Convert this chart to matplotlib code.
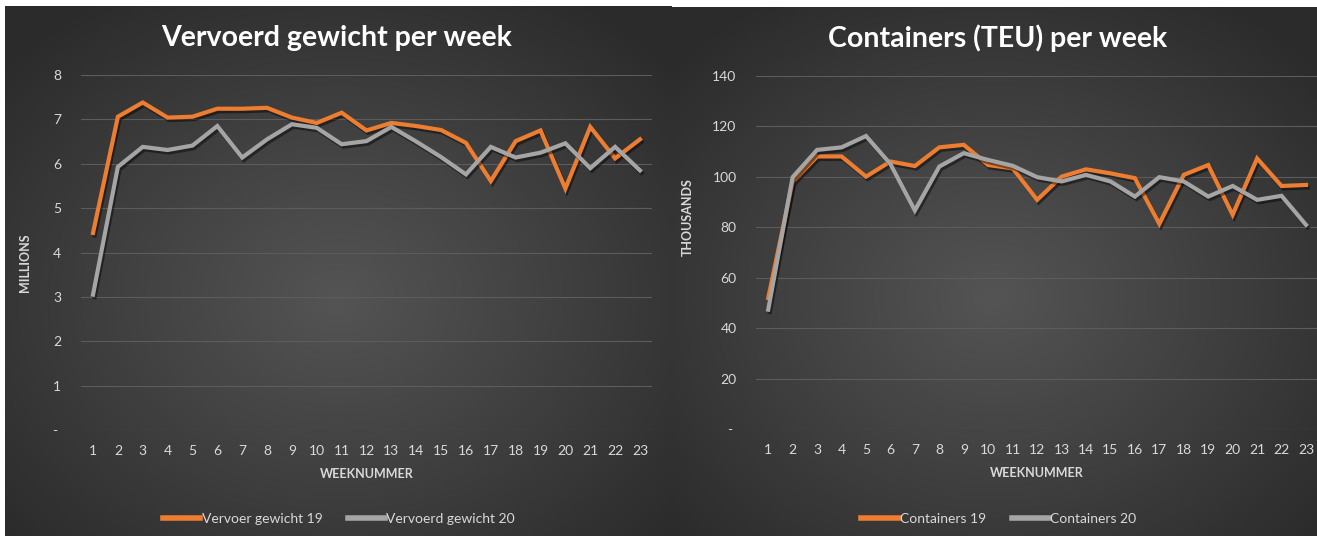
import numpy as np
import matplotlib
matplotlib.use("Agg")
import matplotlib.pyplot as plt
import matplotlib.patheffects as pe
from matplotlib.colors import LinearSegmentedColormap
from matplotlib.ticker import FuncFormatter, MultipleLocator

plt.rcParams['font.family'] = ['Lato', 'DejaVu Sans']

# data
weeks = list(range(1, 24))
gewicht_19 = [4.44, 7.06, 7.38, 7.04, 7.06, 7.24, 7.24, 7.26, 7.04, 6.92, 7.15, 6.75,
              6.92, 6.85, 6.76, 6.47, 5.61, 6.51, 6.75, 5.44, 6.83, 6.12, 6.55]
gewicht_20 = [3.05, 5.93, 6.38, 6.31, 6.41, 6.85, 6.14, 6.55, 6.89, 6.81, 6.44, 6.51,
              6.83, 6.50, 6.15, 5.76, 6.38, 6.14, 6.25, 6.46, 5.90, 6.38, 5.85]
containers_19 = [51.9, 98.0, 108.0, 108.0, 100.0, 106.0, 104.2, 111.6, 112.6, 104.6, 103.3, 90.8,
                 100.0, 102.9, 101.3, 99.4, 81.3, 100.7, 104.6, 84.9, 107.2, 96.3, 96.7]
containers_20 = [47.3, 99.8, 110.6, 111.6, 116.1, 105.0, 86.6, 104.0, 109.3, 106.6, 104.3, 99.8,
                 98.1, 100.7, 98.1, 92.1, 99.8, 98.1, 92.1, 96.3, 90.8, 92.4, 80.9]

W, H = 1317, 536
ORANGE = '#ED7D31'
GREY = '#A5A5A5'
TXT = '#D9D9D9'

fig = plt.figure(figsize=(W / 100, H / 100), dpi=100, facecolor='white')


def px_rect(x0, y0, x1, y1):
    # pixel box (top-left origin) -> figure fraction rect
    return [x0 / W, 1 - y1 / H, (x1 - x0) / W, (y1 - y0) / H]


bg_cmap = LinearSegmentedColormap.from_list('bg', ['#545454', '#404040', '#2b2b2b'])


def panel_background(x0, y0, x1, y1):
    bg = fig.add_axes(px_rect(x0, y0, x1, y1), zorder=0)
    gx, gy = np.meshgrid(np.linspace(-1, 1, 300), np.linspace(-1, 1, 300))
    r = np.sqrt(gx ** 2 + (gy - 0.1) ** 2) / 1.35
    bg.imshow(np.clip(r, 0, 1), cmap=bg_cmap, aspect='auto', extent=(0, 1, 0, 1), vmin=0, vmax=1)
    bg.axis('off')


def dash_zero(v, pos):
    return '- ' if abs(v) < 1e-9 else f'{v:g}'


def draw_chart(rect, s19, s20, lab19, lab20, ymax, ystep, ylabel, ylab_xy, title, title_x,
               legend_x, x_right):
    ax = fig.add_axes(rect, zorder=2)
    ax.patch.set_alpha(0)
    shadow = [pe.SimpleLineShadow(offset=(1.2, -1.8), shadow_color='black', alpha=0.45), pe.Normal()]
    ax.plot(weeks, s19, color=ORANGE, lw=3.0, label=lab19, solid_joinstyle='miter',
            path_effects=shadow, zorder=3)
    ax.plot(weeks, s20, color=GREY, lw=3.0, label=lab20, solid_joinstyle='miter',
            path_effects=shadow, zorder=4)
    ax.set_xlim(0.5, x_right)
    ax.set_ylim(0, ymax)
    ax.set_xticks(weeks)
    ax.yaxis.set_major_locator(MultipleLocator(ystep))
    ax.yaxis.set_major_formatter(FuncFormatter(dash_zero))
    ax.grid(axis='y', color='#5c5c5c', lw=0.8)
    ax.set_axisbelow(True)
    for s in ax.spines.values():
        s.set_visible(False)
    ax.tick_params(axis='both', length=0, colors=TXT, labelsize=10)
    ax.tick_params(axis='x', pad=11)
    ax.tick_params(axis='y', pad=14)
    ax.set_xlabel('WEEKNUMMER', color=TXT, fontsize=9, fontweight='bold', labelpad=8)
    ax.set_ylabel(ylabel, color=TXT, fontsize=9, fontweight='bold')
    ax.yaxis.set_label_coords(*ylab_xy)
    fig.text(title_x / W, 1 - 38 / H, title, color='white', fontsize=20.5, fontweight='bold',
             ha='center', va='center')
    leg = ax.legend(loc='center', bbox_to_anchor=(legend_x / W, 1 - 519 / H),
                    bbox_transform=fig.transFigure, ncol=2, frameon=False, fontsize=10,
                    handlelength=2.7, handletextpad=0.1, columnspacing=1.8)
    for t in leg.get_texts():
        t.set_color(TXT)
    for line in leg.get_lines():
        line.set_linewidth(4)
        line.set_path_effects([])
    return ax


# left panel
panel_background(5, 6, 672, 536)
draw_chart(px_rect(80.6, 75, 652.4, 430), gewicht_19, gewicht_20,
           'Vervoer gewicht 19', 'Vervoerd gewicht 20', 8, 1, 'MILLIONS', (-0.086, 0.47),
           'Vervoerd gewicht per week', 337, 339, 23.5)

# right panel
panel_background(672, 7, 1317, 536)
draw_chart(px_rect(756, 75.7, 1317, 429), containers_19, containers_20,
           'Containers 19', 'Containers 20', 140, 20, 'THOUSANDS', (-0.11, 0.6),
           'Containers (TEU) per week', 998, 999, 23.45)

fig.savefig('out.png', dpi=100, facecolor='white')
